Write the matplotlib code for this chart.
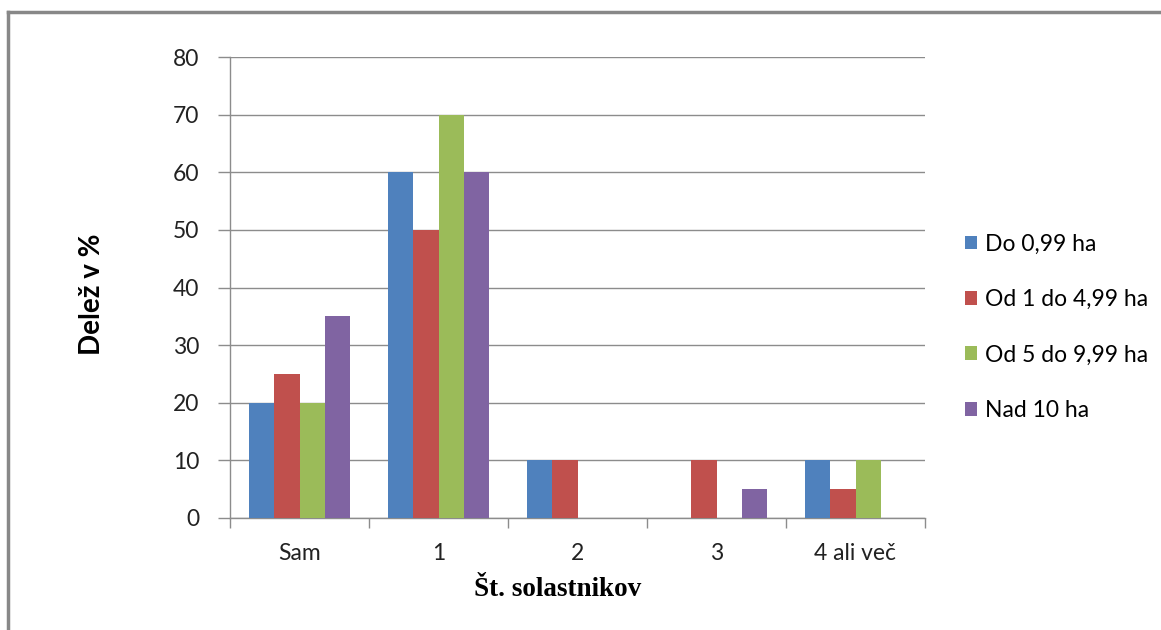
import matplotlib
matplotlib.use('Agg')
import matplotlib.pyplot as plt
from matplotlib.lines import Line2D
import numpy as np

categories = ["Sam", "1", "2", "3", "4 ali več"]
series_names = ["Do 0,99 ha", "Od 1 do 4,99 ha", "Od 5 do 9,99 ha", "Nad 10 ha"]
do_099 = [20, 60, 10, 0, 10]
od1_do499 = [25, 50, 10, 10, 5]
od5_do999 = [20, 70, 0, 0, 10]
nad10 = [35, 60, 0, 5, 0]
colors = ["#4F81BD", "#C0504D", "#9BBB59", "#8064A2"]

series = [do_099, od1_do499, od5_do999, nad10]

plt.rcParams['font.family'] = ['Lato', 'DejaVu Sans']

W, H = 1161, 630
fig = plt.figure(figsize=(W / 100, H / 100), dpi=100, facecolor='white')
ax = fig.add_axes([230 / W, 112 / H, 695 / W, 461 / H])

# chart frame: only the left and top edges show
fig.add_artist(Line2D([7.5 / W, 7.5 / W], [0, 1 - 12 / H],
                      transform=fig.transFigure, color='#888888', lw=2.5))
fig.add_artist(Line2D([7.5 / W, 1], [1 - 12 / H, 1 - 12 / H],
                      transform=fig.transFigure, color='#888888', lw=2.5))

x = np.arange(len(categories))
width = 1 / (len(series) + 1.5)
for i, (vals, name, c) in enumerate(zip(series, series_names, colors)):
    offs = (i - (len(series) - 1) / 2) * width
    ax.bar(x + offs, vals, width, color=c, label=name, zorder=3)

ax.set_xlim(-0.5, len(categories) - 0.5)
ax.set_ylim(0, 80)
ax.set_yticks(range(0, 81, 10))
ax.yaxis.grid(True, color='#8c8c8c', lw=1, zorder=0)
ax.set_axisbelow(True)

ax.set_xticks(np.arange(-0.5, len(categories), 1), minor=False)
ax.set_xticklabels([])
ax.set_xticks(x, minor=True)
ax.set_xticklabels(categories, minor=True, fontsize=16.5, color='#222222')
ax.tick_params(axis='x', which='major', length=7, color='#8c8c8c', width=1)
ax.tick_params(axis='x', which='minor', length=0, pad=18)
ax.tick_params(axis='y', length=9, color='#8c8c8c', width=1, pad=13,
               labelsize=16.5, labelcolor='#222222')

for s in ['top', 'right']:
    ax.spines[s].set_visible(False)
for s in ['left', 'bottom']:
    ax.spines[s].set_color('#8c8c8c')
    ax.spines[s].set_linewidth(1)

fig.text(92 / W, 1 - 294 / H, "Delež v %", rotation=90, fontsize=20,
         fontweight='bold', ha='center', va='center')
fig.text(558 / W, 1 - 590 / H, "Št. solastnikov", fontsize=19.5,
         fontweight='bold', family=['Liberation Serif', 'DejaVu Serif'],
         ha='center', va='center')

fig.legend(loc='upper left', bbox_to_anchor=(944 / W, 1 - 213 / H),
           frameon=False, fontsize=16.5, handlelength=0.55, handleheight=0.55,
           handletextpad=0.35, labelspacing=1.5)

plt.savefig('out.png', dpi=100, facecolor='white')
